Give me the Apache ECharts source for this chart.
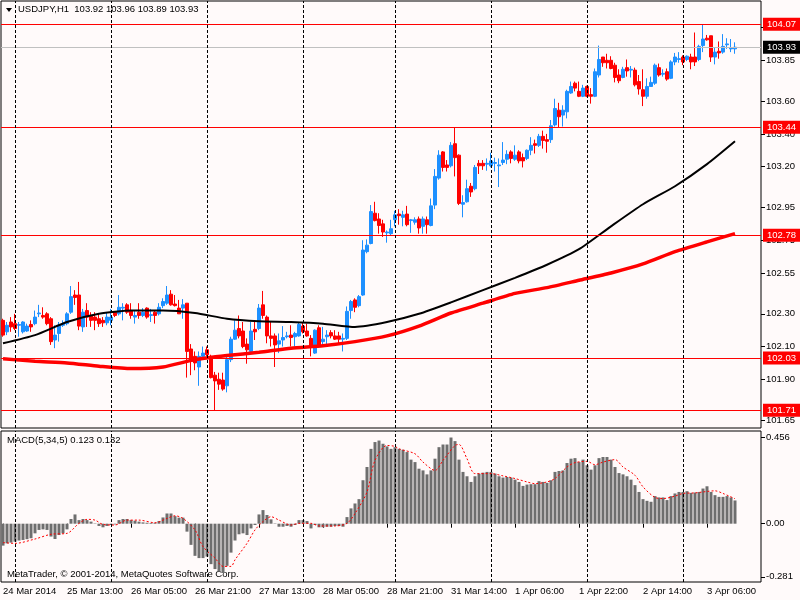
<!doctype html>
<html>
<head>
<meta charset="utf-8">
<title>USDJPY,H1</title>
<script src="https://cdn.jsdelivr.net/npm/echarts@6/dist/echarts.min.js"></script>
<style>
  html, body { margin: 0; padding: 0; background: #fffafa; }
  #main { width: 800px; height: 600px; }
</style>
</head>
<body>
<div id="main"></div>
<script>
// hourly bars, [open, close, low, high]
var bars = [
  [102.26,102.17,102.16,102.27],[102.19,102.23,102.17,102.25],[102.25,102.22,102.19,102.28],[102.24,102.21,102.20,102.30],
  [102.23,102.235,102.16,102.25],[102.19,102.25,102.18,102.255],[102.195,102.225,102.19,102.24],[102.235,102.22,102.19,102.26],
  [102.24,102.28,102.23,102.32],[102.30,102.305,102.28,102.355],[102.29,102.28,102.27,102.34],[102.30,102.24,102.23,102.31],
  [102.27,102.13,102.11,102.28],[102.14,102.17,102.09,102.23],[102.18,102.23,102.13,102.25],[102.23,102.24,102.22,102.26],
  [102.24,102.30,102.23,102.31],[102.31,102.405,102.30,102.47],[102.415,102.40,102.355,102.445],[102.415,102.225,102.20,102.495],
  [102.22,102.31,102.19,102.33],[102.32,102.28,102.22,102.365],[102.29,102.26,102.22,102.31],[102.28,102.26,102.20,102.31],
  [102.27,102.24,102.22,102.30],[102.26,102.245,102.22,102.28],[102.245,102.28,102.23,102.31],[102.26,102.28,102.23,102.33],
  [102.31,102.29,102.28,102.315],[102.30,102.34,102.29,102.415],[102.335,102.34,102.26,102.365],[102.355,102.31,102.30,102.365],
  [102.32,102.29,102.27,102.365],[102.28,102.29,102.24,102.32],[102.31,102.29,102.27,102.365],[102.29,102.31,102.28,102.335],
  [102.335,102.28,102.27,102.34],[102.29,102.295,102.25,102.33],[102.31,102.29,102.24,102.32],[102.30,102.34,102.29,102.365],
  [102.35,102.375,102.335,102.395],[102.365,102.415,102.355,102.47],[102.42,102.355,102.35,102.445],[102.36,102.35,102.345,102.415],
  [102.335,102.30,102.30,102.385],[102.335,102.355,102.27,102.39],[102.365,102.07,101.91,102.365],[102.085,102.01,101.925,102.115],
  [102.04,102.00,101.955,102.07],[101.975,102.04,101.86,102.07],[102.04,102.06,102.03,102.10],[102.08,102.05,102.04,102.10],
  [102.04,101.91,101.905,102.05],[101.925,101.89,101.71,101.945],[101.90,101.87,101.835,101.94],[101.895,101.84,101.83,101.94],
  [101.86,102.02,101.82,102.04],[102.02,102.145,102.005,102.16],[102.145,102.20,102.14,102.26],[102.21,102.165,102.15,102.29],
  [102.195,102.10,102.09,102.25],[102.115,102.08,101.995,102.15],[102.07,102.195,102.06,102.25],[102.205,102.19,102.14,102.26],
  [102.21,102.335,102.20,102.36],[102.355,102.29,102.27,102.44],[102.28,102.165,102.12,102.29],[102.165,102.15,102.10,102.25],
  [102.165,102.11,101.975,102.18],[102.115,102.135,102.06,102.18],[102.14,102.155,102.10,102.225],[102.16,102.165,102.15,102.19],
  [102.17,102.155,102.10,102.23],[102.16,102.18,102.10,102.19],[102.165,102.235,102.16,102.245],[102.225,102.19,102.18,102.25],
  [102.195,102.165,102.16,102.24],[102.15,102.095,102.04,102.17],[102.06,102.20,102.055,102.205],[102.215,102.10,102.095,102.23],
  [102.13,102.145,102.10,102.22],[102.16,102.17,102.10,102.20],[102.185,102.165,102.15,102.20],[102.165,102.145,102.14,102.20],
  [102.165,102.145,102.12,102.19],[102.145,102.15,102.07,102.18],[102.15,102.315,102.14,102.345],[102.32,102.375,102.27,102.385],
  [102.385,102.34,102.31,102.395],[102.35,102.405,102.34,102.415],[102.415,102.69,102.41,102.75],[102.68,102.72,102.67,102.755],
  [102.73,102.925,102.725,102.965],[102.915,102.87,102.865,102.985],[102.88,102.84,102.79,102.915],[102.85,102.80,102.77,102.875],
  [102.795,102.80,102.735,102.81],[102.79,102.82,102.78,102.875],[102.875,102.905,102.835,102.93],[102.91,102.90,102.845,102.94],
  [102.89,102.905,102.835,102.93],[102.91,102.845,102.835,102.96],[102.87,102.875,102.795,102.88],[102.86,102.875,102.845,102.89],
  [102.88,102.825,102.79,102.895],[102.835,102.88,102.79,102.895],[102.875,102.845,102.79,102.895],[102.84,102.96,102.835,103.005],
  [102.965,103.14,102.94,103.185],[103.13,103.27,103.12,103.30],[103.29,103.195,103.17,103.295],[103.21,103.195,103.17,103.24],
  [103.205,103.33,103.195,103.35],[103.34,103.255,103.14,103.44],[103.27,102.975,102.965,103.275],[102.97,102.98,102.89,103.025],
  [102.985,103.065,102.98,103.12],[103.08,103.045,103.015,103.10],[103.065,103.195,103.055,103.21],[103.22,103.205,103.155,103.24],
  [103.22,103.205,103.18,103.24],[103.215,103.22,103.175,103.25],[103.205,103.235,103.195,103.285],[103.22,103.225,103.17,103.255],
  [103.205,103.21,103.075,103.25],[103.225,103.24,103.21,103.35],[103.245,103.275,103.215,103.30],[103.29,103.25,103.22,103.30],
  [103.245,103.27,103.235,103.33],[103.29,103.235,103.22,103.30],[103.255,103.235,103.195,103.28],[103.25,103.30,103.24,103.305],
  [103.30,103.33,103.27,103.38],[103.34,103.33,103.28,103.365],[103.33,103.385,103.32,103.40],[103.385,103.36,103.31,103.42],
  [103.365,103.355,103.285,103.40],[103.365,103.45,103.345,103.485],[103.455,103.555,103.445,103.615],[103.545,103.505,103.44,103.59],
  [103.515,103.545,103.445,103.575],[103.535,103.66,103.495,103.67],[103.65,103.69,103.645,103.72],[103.71,103.68,103.66,103.72],
  [103.66,103.63,103.625,103.72],[103.63,103.68,103.625,103.70],[103.69,103.63,103.625,103.695],[103.64,103.63,103.585,103.68],
  [103.63,103.78,103.625,103.80],[103.76,103.855,103.745,103.94],[103.87,103.835,103.81,103.87],[103.85,103.835,103.80,103.89],
  [103.85,103.80,103.795,103.875],[103.82,103.745,103.715,103.835],[103.76,103.725,103.71,103.795],[103.745,103.795,103.74,103.81],
  [103.805,103.785,103.75,103.855],[103.79,103.795,103.745,103.815],[103.79,103.70,103.69,103.805],[103.72,103.675,103.64,103.76],
  [103.67,103.63,103.57,103.795],[103.63,103.69,103.615,103.74],[103.69,103.715,103.69,103.75],[103.71,103.82,103.70,103.83],
  [103.805,103.76,103.75,103.83],[103.765,103.77,103.75,103.795],[103.78,103.735,103.725,103.80],[103.74,103.84,103.735,103.85],
  [103.84,103.87,103.82,103.895],[103.855,103.86,103.835,103.90],[103.87,103.84,103.82,103.88],[103.855,103.875,103.845,103.88],
  [103.87,103.84,103.795,103.89],[103.87,103.84,103.815,104.02],[103.855,103.935,103.845,103.945],[103.94,103.98,103.90,104.07],
  [103.985,103.975,103.97,104.005],[104.00,103.87,103.84,104.00],[103.87,103.90,103.825,103.925],[103.905,103.895,103.86,103.965],
  [103.90,103.935,103.89,104.01],[103.945,103.95,103.92,103.985],[103.92,103.925,103.90,103.98],[103.92,103.93,103.89,103.96]
];

// moving averages at these bars
var maIdx   = [0, 8, 16, 24, 32, 40, 48, 56, 64, 72, 80, 88, 96, 104, 112, 120, 128, 136, 144, 152, 160, 168, 176, 183];
var maBlack = [102.12, 102.17, 102.25, 102.30, 102.32, 102.32, 102.305, 102.27, 102.255, 102.25, 102.24, 102.22,
               102.25, 102.30, 102.37, 102.445, 102.52, 102.60, 102.695, 102.835, 102.97, 103.08, 103.215, 103.355];
var maRed   = [102.025, 102.01, 102.00, 101.98, 101.965, 101.975, 102.02, 102.045, 102.065, 102.09, 102.105, 102.13,
               102.165, 102.225, 102.305, 102.365, 102.425, 102.46, 102.505, 102.55, 102.605, 102.68, 102.74, 102.79];

// MACD(5,34,5) histogram
var macd = [
  -0.116,-0.104,-0.100,-0.095,-0.089,-0.086,-0.082,-0.077,-0.051,-0.033,
  -0.030,-0.033,-0.068,-0.081,-0.060,-0.051,-0.030,0.025,0.049,0.019,
  0.025,0.019,0.011,0.002,-0.012,-0.019,-0.012,-0.007,-0.004,0.019,
  0.025,0.025,0.019,0.016,0.011,0.007,0.005,0.004,0.005,0.014,
  0.033,0.054,0.054,0.040,0.032,0.032,-0.042,-0.112,-0.170,-0.182,
  -0.182,-0.174,-0.214,-0.240,-0.253,-0.261,-0.223,-0.153,-0.089,-0.056,
  -0.051,-0.060,-0.025,-0.007,0.049,0.072,0.046,0.023,0.002,-0.016,
  -0.016,-0.012,-0.016,-0.007,0.019,0.019,0.014,-0.025,-0.007,-0.019,
  -0.019,-0.016,-0.016,-0.012,-0.012,-0.016,0.035,0.081,0.107,0.130,
  0.230,0.300,0.396,0.432,0.440,0.423,0.409,0.396,0.405,0.396,
  0.391,0.379,0.339,0.326,0.291,0.282,0.261,0.282,0.344,0.405,
  0.419,0.419,0.456,0.437,0.339,0.274,0.251,0.221,0.251,0.265,
  0.270,0.274,0.274,0.265,0.251,0.244,0.247,0.244,0.233,0.221,
  0.200,0.207,0.209,0.209,0.225,0.221,0.216,0.230,0.274,0.279,
  0.282,0.321,0.344,0.347,0.326,0.339,0.309,0.286,0.309,0.347,
  0.353,0.353,0.339,0.300,0.268,0.261,0.251,0.233,0.204,0.168,
  0.130,0.121,0.116,0.146,0.139,0.139,0.125,0.146,0.160,0.168,
  0.168,0.172,0.163,0.165,0.168,0.186,0.198,0.168,0.151,0.142,
  0.142,0.146,0.139,0.123
];
// signal line, read at these bars
var sigIdx = [0, 3, 8, 12, 16, 19, 21, 23, 25, 28, 31, 34, 38, 41, 43, 45, 48, 50, 53, 55, 57, 58, 61, 63, 65, 67, 69,
              72, 74, 77, 79, 83, 86, 88, 91, 93, 96, 98, 99, 103, 105, 108, 110, 113, 114, 116, 118, 122, 125, 128,
              131, 133, 136, 138, 141, 143, 146, 148, 150, 153, 155, 158, 160, 163, 165, 168, 170, 173, 175, 178, 180, 183];
var sigVal = [-0.100, -0.104, -0.081, -0.056, -0.051, 0.002, 0.023, 0.019, -0.004, -0.007, 0.019, 0.019, 0.005, 0.028,
              0.042, 0.028, -0.033, -0.121, -0.182, -0.226, -0.226, -0.191, -0.104, -0.033, 0.011, 0.037, 0.019,
              -0.007, 0.002, 0.002, -0.012, -0.012, 0.002, 0.054, 0.168, 0.335, 0.414, 0.409, 0.396, 0.370, 0.326,
              0.282, 0.335, 0.414, 0.419, 0.344, 0.265, 0.265, 0.253, 0.239, 0.221, 0.212, 0.221, 0.239, 0.300,
              0.323, 0.330, 0.312, 0.326, 0.339, 0.300, 0.256, 0.195, 0.139, 0.133, 0.146, 0.160, 0.163, 0.168,
              0.174, 0.160, 0.132];

var levels = [104.07, 103.44, 102.78, 102.03, 101.71];
var lastPrice = 103.93;
var dayStarts = [3, 27, 51, 75, 98, 122, 146, 170];
var xTickLabels = ['24 Mar 2014', '25 Mar 13:00', '26 Mar 05:00', '26 Mar 21:00', '27 Mar 13:00', '28 Mar 05:00',
                   '28 Mar 21:00', '31 Mar 14:00', '1 Apr 06:00', '1 Apr 22:00', '2 Apr 14:00', '3 Apr 06:00'];
var priceTicks = [104.05, 103.85, 103.60, 103.40, 103.20, 102.95, 102.75, 102.55, 102.30, 102.10, 101.90, 101.65];
var macdTicks = [0.456, 0, -0.281];

var SLOTS = 190; // 184 bars + empty shift on the right
var cats = [];
for (var i = 0; i < SLOTS; i++) cats.push(String(i));

function pairs(idx, vals) {
  return idx.map(function (k, j) { return [String(k), vals[j]]; });
}

var FONT = 'Liberation Sans';
var FS = 9.5;

var levelLines = levels.map(function (v) {
  return {
    yAxis: v,
    lineStyle: { color: '#ff0000', width: 1, type: 'solid' },
    label: { show: true, position: 'end', distance: 2, formatter: v.toFixed(2),
             backgroundColor: '#ff0000', color: '#ffffff', padding: [2, 4, 1, 4],
             fontFamily: FONT, fontSize: FS }
  };
});
levelLines.push({
  yAxis: lastPrice,
  lineStyle: { color: '#c0c0c0', width: 1, type: 'solid' },
  label: { show: true, position: 'end', distance: 2, formatter: lastPrice.toFixed(2),
           backgroundColor: '#000000', color: '#ffffff', padding: [2, 4, 1, 4],
           fontFamily: FONT, fontSize: FS }
});
function vLines() {
  return dayStarts.map(function (d) {
    return { xAxis: String(d), lineStyle: { color: '#000', width: 1, type: [3, 2] }, label: { show: false } };
  });
}

var last = bars[bars.length - 1];
var header = 'USDJPY,H1  ' + last[0].toFixed(2) + ' ' + last[3].toFixed(2) + ' ' + last[2].toFixed(2) + ' ' + last[1].toFixed(2);
var macdTitle = 'MACD(5,34,5) ' + macd[macd.length - 1].toFixed(3) + ' ' + sigVal[sigVal.length - 1].toFixed(3);

var chart = echarts.init(document.getElementById('main'), null, { renderer: 'canvas' });
chart.setOption({
  backgroundColor: '#fffafa',
  animation: false,
  textStyle: { fontFamily: FONT },
  grid: [
    { left: 1, right: 39, top: 1, height: 427, show: true, borderColor: '#000', borderWidth: 1, backgroundColor: 'transparent' },
    { left: 1, right: 39, top: 431, height: 151, show: true, borderColor: '#000', borderWidth: 1, backgroundColor: 'transparent' }
  ],
  xAxis: [
    { type: 'category', gridIndex: 0, data: cats, boundaryGap: true,
      axisLine: { show: false }, axisTick: { show: false }, axisLabel: { show: false }, splitLine: { show: false } },
    { type: 'category', gridIndex: 1, data: cats, boundaryGap: true, position: 'bottom',
      axisLine: { show: false },
      axisTick: { show: true, interval: 15, alignWithLabel: true, length: 4, lineStyle: { color: '#000' } },
      axisLabel: { show: true, interval: 15, align: 'left', margin: 4, color: '#000', fontSize: FS, fontFamily: FONT,
                   formatter: function (v, idx) { return idx % 16 === 0 ? (xTickLabels[idx / 16] || '') : ''; } },
      splitLine: { show: false } }
  ],
  yAxis: [
    { type: 'value', gridIndex: 0, position: 'right', min: 101.602, max: 104.2125, scale: true,
      axisLine: { show: false }, splitLine: { show: false },
      axisTick: { show: true, length: 4, inside: false, customValues: priceTicks, lineStyle: { color: '#000' } },
      axisLabel: { show: true, margin: 5, color: '#000', fontSize: FS, fontFamily: FONT, customValues: priceTicks,
                   formatter: function (v) { return v.toFixed(2); } } },
    { type: 'value', gridIndex: 1, position: 'right', min: -0.3085, max: 0.4905,
      axisLine: { show: false }, splitLine: { show: false },
      axisTick: { show: true, length: 4, customValues: macdTicks, lineStyle: { color: '#000' } },
      axisLabel: { show: true, margin: 5, color: '#000', fontSize: FS, fontFamily: FONT, customValues: macdTicks,
                   formatter: function (v) { return v === 0 ? '0.00' : String(v); } } }
  ],
  series: [
    { name: 'USDJPY', type: 'candlestick', xAxisIndex: 0, yAxisIndex: 0, data: bars, barWidth: 3,
      itemStyle: { color: '#1e90ff', color0: '#ff0000', borderColor: '#1e90ff', borderColor0: '#ff0000', borderWidth: 1 },
      markLine: { silent: true, symbol: ['none', 'none'], animation: false, data: levelLines.concat(vLines()) } },
    { name: 'MA slow', type: 'line', xAxisIndex: 0, yAxisIndex: 0, data: pairs(maIdx, maRed), showSymbol: false,
      smooth: 0.2, lineStyle: { color: '#ff0000', width: 3.5 }, z: 3 },
    { name: 'MA fast', type: 'line', xAxisIndex: 0, yAxisIndex: 0, data: pairs(maIdx, maBlack), showSymbol: false,
      smooth: 0.2, lineStyle: { color: '#000000', width: 2 }, z: 3 },
    { name: 'MACD', type: 'bar', xAxisIndex: 1, yAxisIndex: 1, data: macd, barWidth: 3,
      itemStyle: { color: '#6e6e6e' },
      markLine: { silent: true, symbol: ['none', 'none'], animation: false, data: vLines() } },
    { name: 'Signal', type: 'line', xAxisIndex: 1, yAxisIndex: 1, data: pairs(sigIdx, sigVal), showSymbol: false,
      smooth: 0.3, lineStyle: { color: '#ff0000', width: 1, type: [2, 2] }, z: 4 }
  ],
  graphic: [
    { type: 'polygon', shape: { points: [[6, 8], [12, 8], [9, 12]] }, style: { fill: '#000' } },
    { type: 'text', left: 18, top: 4, style: { text: header, fill: '#000', font: FS + 'px "' + FONT + '"' } },
    { type: 'text', left: 7, top: 435, style: { text: macdTitle, fill: '#000', font: FS + 'px "' + FONT + '"' } },
    { type: 'text', left: 7, top: 569, style: { text: 'MetaTrader, \u00a9 2001-2014, MetaQuotes Software Corp.', fill: '#000', font: FS + 'px "' + FONT + '"' } }
  ]
});
</script>
</body>
</html>
